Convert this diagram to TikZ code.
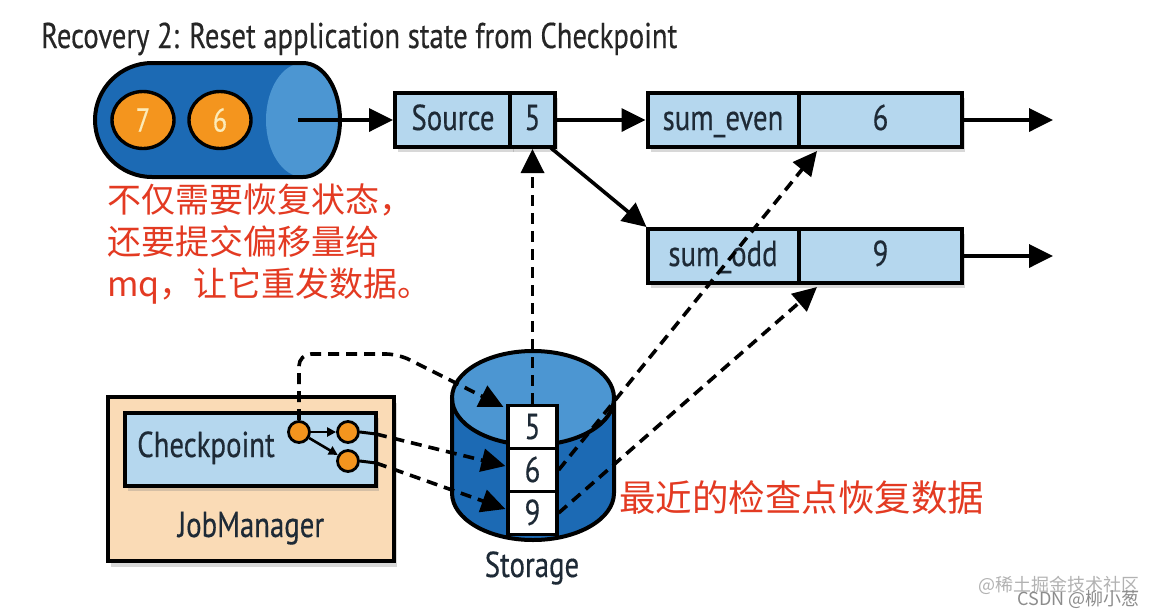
\documentclass[tikz,border=0pt]{standalone}
\usepackage{fontspec}
\setmainfont{PT Sans}
\newfontfamily\cf[FakeStretch=0.8,FakeBold=0.4]{PT Sans}
\newfontfamily\cjk{Noto Sans CJK SC}
\usetikzlibrary{arrows.meta,shadows,calc,shapes.geometric}
\definecolor{qdark}{HTML}{1C6AB4}
\definecolor{qlight}{HTML}{4C96D2}
\definecolor{boxblue}{HTML}{B5D7EE}
\definecolor{orng}{HTML}{F4951E}
\definecolor{peach}{HTML}{FADBB6}
\definecolor{redtxt}{HTML}{E33A22}
\definecolor{txtdark}{HTML}{1E2A36}
\definecolor{ballnum}{HTML}{FCEBB8}
\tikzset{
  arr/.style={line width=3.6pt,-{Triangle[length=24pt,width=23pt]}},
  darr/.style={arr,dash pattern=on 11pt off 7pt},
  cellbox/.style={draw=black,line width=4pt,fill=boxblue,inner sep=0pt,
     font=\cf\fontsize{36}{40}\selectfont,text=txtdark,text height=26pt,text depth=6pt,
     drop shadow={opacity=0.3,shadow xshift=3pt,shadow yshift=-5pt}},
  storecell/.style={draw=black,line width=3.2pt,fill=white,inner sep=0pt,
     minimum width=49pt,minimum height=43pt,font=\cf\fontsize{36}{40}\selectfont,text=txtdark,
     text height=26pt,text depth=2pt},
  ball/.style={ellipse,draw=black,line width=3.4pt,fill=orng,inner sep=0pt,
     minimum width=62pt,minimum height=57pt,text=ballnum,font=\cf\fontsize{33}{36}\selectfont},
  smallball/.style={circle,draw=black,line width=2.8pt,fill=orng,inner sep=0pt,minimum size=21pt},
  redlabel/.style={text=redtxt,font=\cjk\fontsize{34}{40}\selectfont,inner sep=0pt,align=left},
  lbl/.style={font=\cf\fontsize{36}{40}\selectfont,text=txtdark,inner sep=0pt},
  wm/.style={font=\cjk\fontsize{18}{20}\selectfont,inner sep=0pt}
}
\begin{document}
\begin{tikzpicture}[x=1pt,y=-1pt]
\useasboundingbox (0,0) rectangle (1154,614);
\fill[white] (0,0) rectangle (1154,614);

% title
\node[anchor=base west,inner sep=0pt,font=\cf\fontsize{35.8}{40}\selectfont,text=black!85] (title) at (41,48) {Recovery 2: Reset application state from Checkpoint};

% queue cylinder
\fill[qdark] (303,63) -- (152,63) arc[start angle=270,end angle=90,radius=57] -- (303,177) arc[start angle=90,end angle=-90,x radius=37,y radius=57] -- cycle;
\fill[qlight] (303,120) ellipse[x radius=37,y radius=57];
\draw[line width=4pt] (303,63) -- (152,63) arc[start angle=270,end angle=90,radius=57] -- (303,177) arc[start angle=90,end angle=-90,x radius=37,y radius=57] -- cycle;
\node[ball] (b7) at (143,120) {7};
\node[ball] (b6) at (220,120) {6};
\coordinate (qout) at (298,120);

% source
\node[cellbox,minimum width=116pt,minimum height=54pt] (src) at (453,120) {Source};
\node[cellbox,minimum width=45pt,minimum height=54pt] (srcv) at (532.5,120) {5};

% sum_even
\node[cellbox,minimum width=151pt,minimum height=54pt] (even) at (723,120) {sum\_even};
\node[cellbox,minimum width=163pt,minimum height=54pt] (evenv) at (880.5,120) {6};

% sum_odd
\node[cellbox,minimum width=151pt,minimum height=54pt] (odd) at (723,256) {sum\_odd};
\node[cellbox,minimum width=163pt,minimum height=54pt] (oddv) at (880.5,256) {9};

\coordinate (eout) at (1053,120);
\coordinate (oout) at (1053,256);

% storage cylinder
\fill[qdark] (452,398) -- (452,493) arc[start angle=180,end angle=0,x radius=81,y radius=47] -- (614,398) -- cycle;
\fill[qlight] (533,398) ellipse[x radius=81,y radius=47];
\draw[line width=4pt] (452,398) -- (452,493) arc[start angle=180,end angle=0,x radius=81,y radius=47] -- (614,398);
\draw[line width=4pt] (533,398) ellipse[x radius=81,y radius=47];
\node[storecell] (c5) at (532.5,427) {5};
\node[storecell] (c6) at (532.5,470) {6};
\node[storecell] (c9) at (532.5,513) {9};
\node[lbl,anchor=base] (storage) at (532,577) {Storage};

% jobmanager
\node[draw=black,line width=4pt,fill=peach,minimum width=286pt,minimum height=164pt,inner sep=0pt,
  drop shadow={opacity=0.3,shadow xshift=3pt,shadow yshift=-6pt}] (jm) at (251,479) {};
\node[lbl,anchor=base] (jmlabel) at (251,537) {JobManager};
\node[draw=black,line width=4pt,fill=boxblue,minimum width=251pt,minimum height=73pt,inner sep=0pt,
  drop shadow={opacity=0.3,shadow xshift=3pt,shadow yshift=-5pt}] (cp) at (250.5,449.5) {};
\node[lbl,anchor=base] (cplabel) at (206,457) {Checkpoint};
\node[smallball] (k1) at (299,432) {};
\node[smallball] (k2) at (348,432) {};
\node[smallball] (k3) at (348,461) {};
\coordinate (k2e) at (376,434);
\coordinate (k3e) at (376,463);
\draw[line width=2.6pt,-{Triangle[length=9pt,width=9pt]}] (k1) -- (k2);
\draw[line width=2.6pt,-{Triangle[length=9pt,width=9pt]}] (k1) -- (k3);
\draw[line width=3pt] (k2.east) -- (k2e);
\draw[line width=3pt] (k3.east) -- (k3e);

% solid arrows
\draw[arr] (qout) -- (src.west);
\draw[arr] (srcv.east) -- (even.west);
\draw[arr] ($(srcv.south east)+(-6,-1)$) -- ($(odd.north west)+(1,0)$);
\draw[arr] (evenv.east) -- (eout);
\draw[arr] (oddv.east) -- (oout);

% dashed arrows
\draw[darr] (c5.north) -- (srcv.south);
\draw[darr] (c6.east) -- ($(evenv.south west)+(20,2)$);
\draw[darr] (c9.east) -- ($(oddv.south west)+(20,2)$);
\draw[darr,rounded corners=12pt] (k1.north) -- (299,354) -- (398,354) -- ($(c5.north west)+(-3,3)$);
\draw[darr] (k2e) -- ($(c6.west)+(-1,-4)$);
\draw[darr] (k3e) -- ($(c9.west)+(-1,-4)$);

% red notes
\node[redlabel,anchor=north west] (note1) at (107,184) {不仅需要恢复状态，\\[2pt]还要提交偏移量给\\[2pt]mq，让它重发数据。};
\node[redlabel,anchor=west,font=\cjk\fontsize{36.5}{40}\selectfont] (note2) at (619,498) {最近的检查点恢复数据};

% watermark
\node[wm,anchor=east,text=black!30] (wm1) at (1140,585) {@稀土掘金技术社区};
\node[wm,anchor=east,text=black!45] (wm2) at (1140,599) {CSDN @柳小葱};
\end{tikzpicture}
\end{document}
